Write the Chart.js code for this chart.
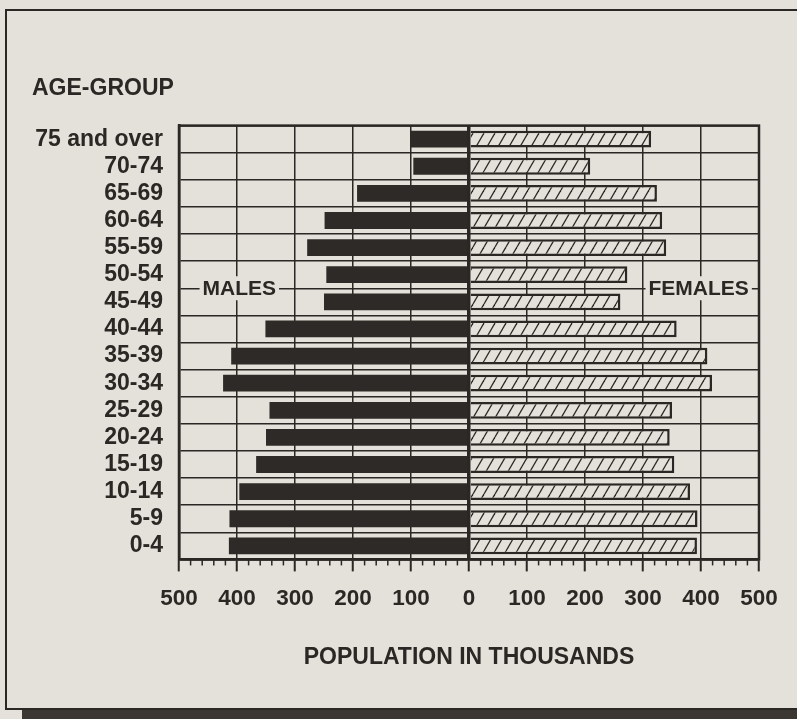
<!DOCTYPE html>
<html>
<head>
<meta charset="utf-8">
<title>Population by age group</title>
<script src="https://cdn.jsdelivr.net/npm/chart.js@4.4.1/dist/chart.umd.min.js"></script>
<style>
  body { margin: 0; background: #e3e1d9; }
  canvas { display: block; }
</style>
</head>
<body>
<canvas id="pyramid" width="797" height="719"></canvas>
<script>
// age groups, top row first
const ageGroups = ['75 and over', '70-74', '65-69', '60-64', '55-59', '50-54', '45-49', '40-44',
  '35-39', '30-34', '25-29', '20-24', '15-19', '10-14', '5-9', '0-4'];
// population in thousands
const males = [100, 96, 193, 249, 279, 246, 250, 351, 410, 424, 344, 350, 367, 396, 413, 414];
const females = [314, 209, 324, 333, 340, 273, 261, 358, 411, 419, 350, 346, 354, 381, 394, 393];
const xTicks = [-500, -400, -300, -200, -100, 0, 100, 200, 300, 400, 500];

const INK = '#2b2724';
const PAPER = '#e3e1d9';
const FONT = '"Liberation Sans", Arial, Helvetica, sans-serif';

// diagonal hatching for the female bars
function makeHatch() {
  const c = document.createElement('canvas');
  c.width = 11;
  c.height = 19;
  const g = c.getContext('2d');
  g.fillStyle = PAPER;
  g.fillRect(0, 0, 11, 19);
  g.strokeStyle = INK;
  g.lineWidth = 1.3;
  [-11, 0, 11].forEach(o => {
    g.beginPath();
    g.moveTo(o, 19);
    g.lineTo(o + 11, 0);
    g.stroke();
  });
  return g.createPattern(c, 'repeat');
}

// page frame, minor ticks and the MALES / FEMALES labels
const decorations = {
  id: 'decorations',
  beforeDraw(chart) {
    const c = chart.ctx;
    c.save();
    c.fillStyle = PAPER;
    c.fillRect(0, 0, chart.width, chart.height);
    c.fillStyle = '#3b3733';
    c.fillRect(22, 710, chart.width - 22, chart.height - 710);
    c.strokeStyle = INK;
    c.lineWidth = 2;
    c.beginPath();
    c.moveTo(chart.width, 10);
    c.lineTo(6, 10);
    c.lineTo(6, 709);
    c.lineTo(chart.width, 709);
    c.stroke();
    c.restore();
  },
  afterDatasetsDraw(chart) {
    const c = chart.ctx;
    const x = chart.scales.x;
    const y = chart.scales.y;
    const area = chart.chartArea;
    c.save();
    c.strokeStyle = INK;
    c.lineWidth = 2.5;
    c.strokeRect(area.left, area.top, area.right - area.left, area.bottom - area.top);

    // minor ticks every 20 thousand
    c.lineWidth = 1.5;
    for (let v = -480; v < 500; v += 20) {
      if (v % 100 === 0) continue;
      const px = x.getPixelForValue(v);
      c.beginPath();
      c.moveTo(px, area.bottom);
      c.lineTo(px, area.bottom + 6);
      c.stroke();
    }

    // sex labels sit on the line between 50-54 and 45-49
    const ly = (y.getPixelForValue(5) + y.getPixelForValue(6)) / 2;
    c.font = 'bold 21px ' + FONT;
    c.textAlign = 'center';
    c.textBaseline = 'middle';
    [['MALES', -396], ['FEMALES', 396]].forEach(([text, v]) => {
      const cx = x.getPixelForValue(v);
      const w = c.measureText(text).width;
      c.fillStyle = PAPER;
      c.fillRect(cx - w / 2 - 3, ly - 12, w + 6, 24);
      c.fillStyle = INK;
      c.fillText(text, cx, ly + 1);
    });
    c.restore();
  }
};

new Chart(document.getElementById('pyramid'), {
  type: 'bar',
  data: {
    labels: ageGroups,
    datasets: [
      {
        label: 'Males',
        data: males.map(v => -v),
        backgroundColor: '#2e2a27',
        borderWidth: 0,
        barPercentage: 0.62,
        categoryPercentage: 1
      },
      {
        label: 'Females',
        data: females,
        backgroundColor: makeHatch(),
        borderColor: INK,
        borderWidth: 2.5,
        borderSkipped: 'start',
        barPercentage: 0.62,
        categoryPercentage: 1
      }
    ]
  },
  options: {
    indexAxis: 'y',
    responsive: false,
    animation: false,
    layout: { padding: { top: 75, left: 32, right: 38, bottom: 48 } },
    plugins: {
      legend: { display: false },
      tooltip: { enabled: false },
      title: {
        display: true,
        text: 'AGE-GROUP',
        align: 'start',
        color: INK,
        font: { family: FONT, size: 23, weight: 'bold' },
        padding: { top: 0, bottom: 23 }
      }
    },
    scales: {
      x: {
        stacked: true,
        min: -500,
        max: 500,
        afterBuildTicks: scale => { scale.ticks = xTicks.map(v => ({ value: v })); },
        ticks: {
          color: INK,
          padding: 14,
          maxRotation: 0,
          font: { family: FONT, size: 22.5, weight: 'bold' },
          callback: v => String(Math.abs(v))
        },
        grid: {
          color: INK,
          lineWidth: ctx => (ctx.tick && ctx.tick.value === 0 ? 3.5 : 1.5),
          tickColor: INK,
          tickWidth: 2,
          tickLength: 12
        },
        border: { display: true, color: INK, width: 2.5 },
        title: {
          display: true,
          text: 'POPULATION IN THOUSANDS',
          color: INK,
          font: { family: FONT, size: 23, weight: 'bold' },
          padding: { top: 17, bottom: 0 }
        }
      },
      y: {
        stacked: true,
        afterFit: scale => { scale.width = 147; },
        ticks: {
          color: INK,
          padding: 16,
          autoSkip: false,
          font: { family: FONT, size: 23, weight: 'bold' }
        },
        grid: {
          color: INK,
          lineWidth: 1.5,
          drawTicks: false,
          offset: true
        },
        border: { display: true, color: INK, width: 2.5 }
      }
    }
  },
  plugins: [decorations]
});
</script>
</body>
</html>
